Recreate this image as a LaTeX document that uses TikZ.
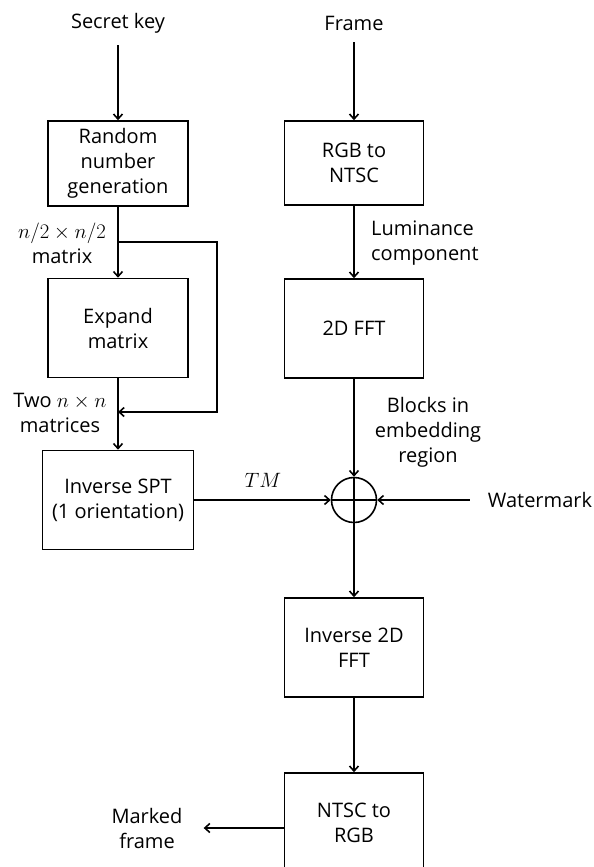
\documentclass[tikz,border=0pt]{standalone}
\usepackage{fontspec}
\setmainfont{Open Sans}
\usetikzlibrary{arrows.meta,positioning}

\newcommand{\mth}[1]{{\fontsize{21}{25}\selectfont$#1$}}

\tikzset{
  block/.style={draw,line width=1.6pt,minimum width=139pt,minimum height=99pt,align=center,inner sep=2pt},
  lbl/.style={align=center,inner sep=0pt},
  flow/.style={->,line width=1.6pt},
}

\begin{document}
\begin{tikzpicture}[>={Straight Barb[length=5pt,width=9pt]},x=1pt,y=-1pt,font=\fontsize{20}{25}\selectfont]
	\useasboundingbox (0,0) rectangle (594,867);
	\clip (0,0) rectangle (594,867);
	% inputs
	\node[lbl] (key) at (118,23) {Secret key};
	\node[lbl] (frame) at (354,23) {Frame};
	% left column
	\node[block,minimum width=140pt,minimum height=85pt] (rng) at (118,163.5) {Random\\number\\generation};
	\node[block,minimum width=140pt] (exp) at (118,328) {Expand\\matrix};
	\node[block,minimum width=151pt] (spt) at (118,500) {Inverse SPT\\(1 orientation)};
	% right column
	\node[block,minimum height=84pt] (rgb) at (354,163) {RGB to\\NTSC};
	\node[block] (fft) at (354,328.5) {2D FFT};
	\node[draw,circle,line width=1.6pt,minimum size=45pt,inner sep=0pt] (sum) at (354,500) {};
	\node[block] (ifft) at (354,647.5) {Inverse 2D\\FFT};
	\node[block] (ntsc) at (354,822.5) {NTSC to\\RGB};
	\node[lbl] (wm) at (540,500) {Watermark};
	\node[lbl] (marked) at (147,828) {Marked\\frame};
	% labels
	\node[lbl] at (62,243.5) {\mth{n/2\times n/2}\\matrix};
	\node[lbl] at (60,413) {Two \mth{n\times n}\\matrices};
	\node[lbl,align=left,anchor=west] at (371,243.5) {Luminance\\component};
	\node[lbl] at (428,432.5) {Blocks in\\embedding\\region};
	\node[lbl] at (263,480) {\mth{TM}};
	\coordinate (split) at (118,242);
	\coordinate (join) at (118,412);
	% connectors
	\draw[flow] ([yshift=-12pt]key.south) -- (rng);
	\draw[flow] ([yshift=-12pt]frame.south) -- (rgb);
	\draw[flow] (rng) -- (exp);
	\draw[flow] (exp) -- (spt);
	\draw[flow] (split) -- ++(99,0) |- (join);
	\draw[flow] (rgb) -- (fft);
	\draw[flow] (fft) -- (sum);
	\draw[flow] (spt) -- (sum);
	\draw[flow] ([xshift=-18pt]wm.west) -- (sum.east);
	\draw[line width=1.6pt] (sum.north) -- (sum.south) (sum.west) -- (sum.east);
	\draw[flow] (sum) -- (ifft);
	\draw[flow] (ifft) -- (ntsc);
	\draw[flow] (ntsc.west |- marked) -- ([xshift=21pt]marked.east);
\end{tikzpicture}
\end{document}
